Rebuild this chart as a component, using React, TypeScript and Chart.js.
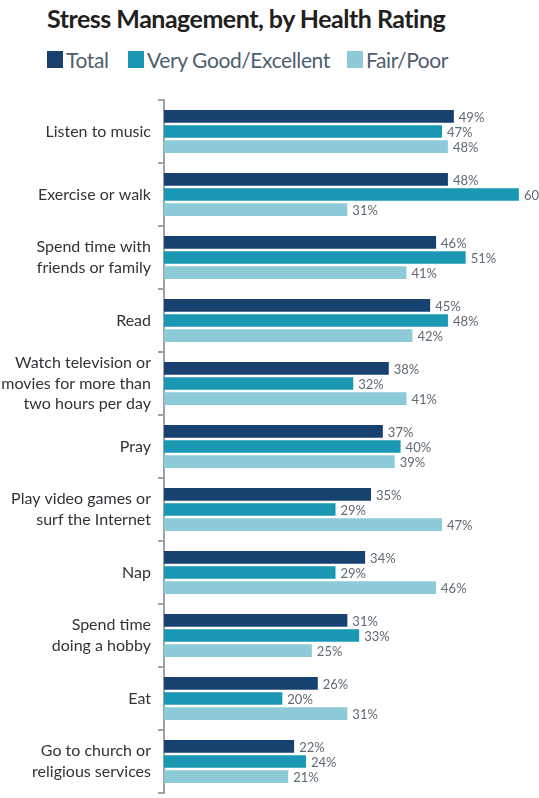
import React, { useEffect, useRef } from "react";
import { Chart, registerables } from "chart.js";

Chart.register(...registerables);

const categories: (string | string[])[] = [
  "Listen to music",
  "Exercise or walk",
  ["Spend time with", "friends or family"],
  "Read",
  ["Watch television or", "movies for more than", "two hours per day"],
  "Pray",
  ["Play video games or", "surf the Internet"],
  "Nap",
  ["Spend time", "doing a hobby"],
  "Eat",
  ["Go to church or", "religious services"],
];

const seriesNames = ["Total", "Very Good/Excellent", "Fair/Poor"];
const totalValues = [49, 48, 46, 45, 38, 37, 35, 34, 31, 26, 22];
const veryGoodValues = [47, 60, 51, 48, 32, 40, 29, 29, 33, 20, 24];
const fairPoorValues = [48, 31, 41, 42, 41, 39, 47, 46, 25, 31, 21];
const seriesColors = ["#17416f", "#1a97b2", "#8ecbd9"];

const FONT = "Lato, 'Noto Sans', sans-serif";

const valueLabelPlugin = {
  id: "valueLabels",
  afterDatasetsDraw(chart: any) {
    const ctx = chart.ctx;
    ctx.save();
    ctx.font = `13px ${FONT}`;
    ctx.fillStyle = "#5f6a72";
    ctx.textAlign = "left";
    ctx.textBaseline = "middle";
    chart.data.datasets.forEach((ds: any, i: number) => {
      const meta = chart.getDatasetMeta(i);
      meta.data.forEach((bar: any, j: number) => {
        ctx.fillText(`${ds.data[j]}%`, bar.x + 5, bar.y + 1);
      });
    });
    ctx.restore();
  },
};

function BarChart() {
  const ref = useRef<HTMLCanvasElement | null>(null);
  useEffect(() => {
    if (!ref.current) return;
    const chart = new Chart(ref.current, {
      type: "bar",
      data: {
        labels: categories,
        datasets: [totalValues, veryGoodValues, fairPoorValues].map((d, i) => ({
          label: seriesNames[i],
          data: d,
          backgroundColor: seriesColors[i],
          borderWidth: 0,
          categoryPercentage: 0.72,
          barPercentage: 0.84,
        })),
      },
      options: {
        indexAxis: "y",
        animation: false,
        responsive: false,
        maintainAspectRatio: false,
        layout: { padding: { top: 5, bottom: 5, left: 0, right: 0 } },
        plugins: {
          legend: { display: false },
          title: { display: false },
          tooltip: { enabled: false },
        },
        scales: {
          x: {
            display: false,
            min: 0,
            max: 63.4,
          },
          y: {
            afterFit(scale: any) {
              scale.width = 164;
              scale.paddingTop = 0;
              scale.paddingBottom = 0;
            },
            border: { display: true, color: "#9aa3ab", width: 2 },
            grid: {
              display: true,
              drawOnChartArea: false,
              drawTicks: true,
              tickLength: 6,
              color: "#9aa3ab",
              lineWidth: 2,
              offset: true,
            },
            ticks: {
              autoSkip: false,
              color: "#303438",
              padding: 7,
              font: { family: FONT, size: 16, lineHeight: 1.27 },
              crossAlign: "near",
            },
          },
        },
      },
      plugins: [valueLabelPlugin],
    });
    return () => chart.destroy();
  }, []);
  return (
    <canvas
      ref={ref}
      width={539}
      height={703}
      style={{ position: "absolute", left: 0, top: 95, width: 539, height: 703 }}
    />
  );
}

export default function App() {
  const legendLefts = [47, 128, 347];
  return (
    <div
      style={{
        position: "absolute",
        left: 0,
        top: 0,
        width: 539,
        height: 798,
        overflow: "hidden",
        background: "#ffffff",
        fontFamily: FONT,
      }}
    >
      <div
        style={{
          position: "absolute",
          left: 47,
          top: 3,
          fontSize: 25,
          fontWeight: 700,
          color: "#231f20",
          whiteSpace: "nowrap",
          letterSpacing: -0.5,
        }}
      >
        Stress Management, by Health Rating
      </div>
      {seriesNames.map((n, i) => (
        <div
          key={n}
          style={{
            position: "absolute",
            left: legendLefts[i],
            top: 47,
            display: "flex",
            alignItems: "center",
            whiteSpace: "nowrap",
          }}
        >
          <span
            style={{
              display: "inline-block",
              width: 16,
              height: 17,
              background: seriesColors[i],
              marginRight: 3,
            }}
          />
          <span style={{ fontSize: 21, color: "#4d5e6e", letterSpacing: -0.4 }}>{n}</span>
        </div>
      ))}
      <BarChart />
    </div>
  );
}
